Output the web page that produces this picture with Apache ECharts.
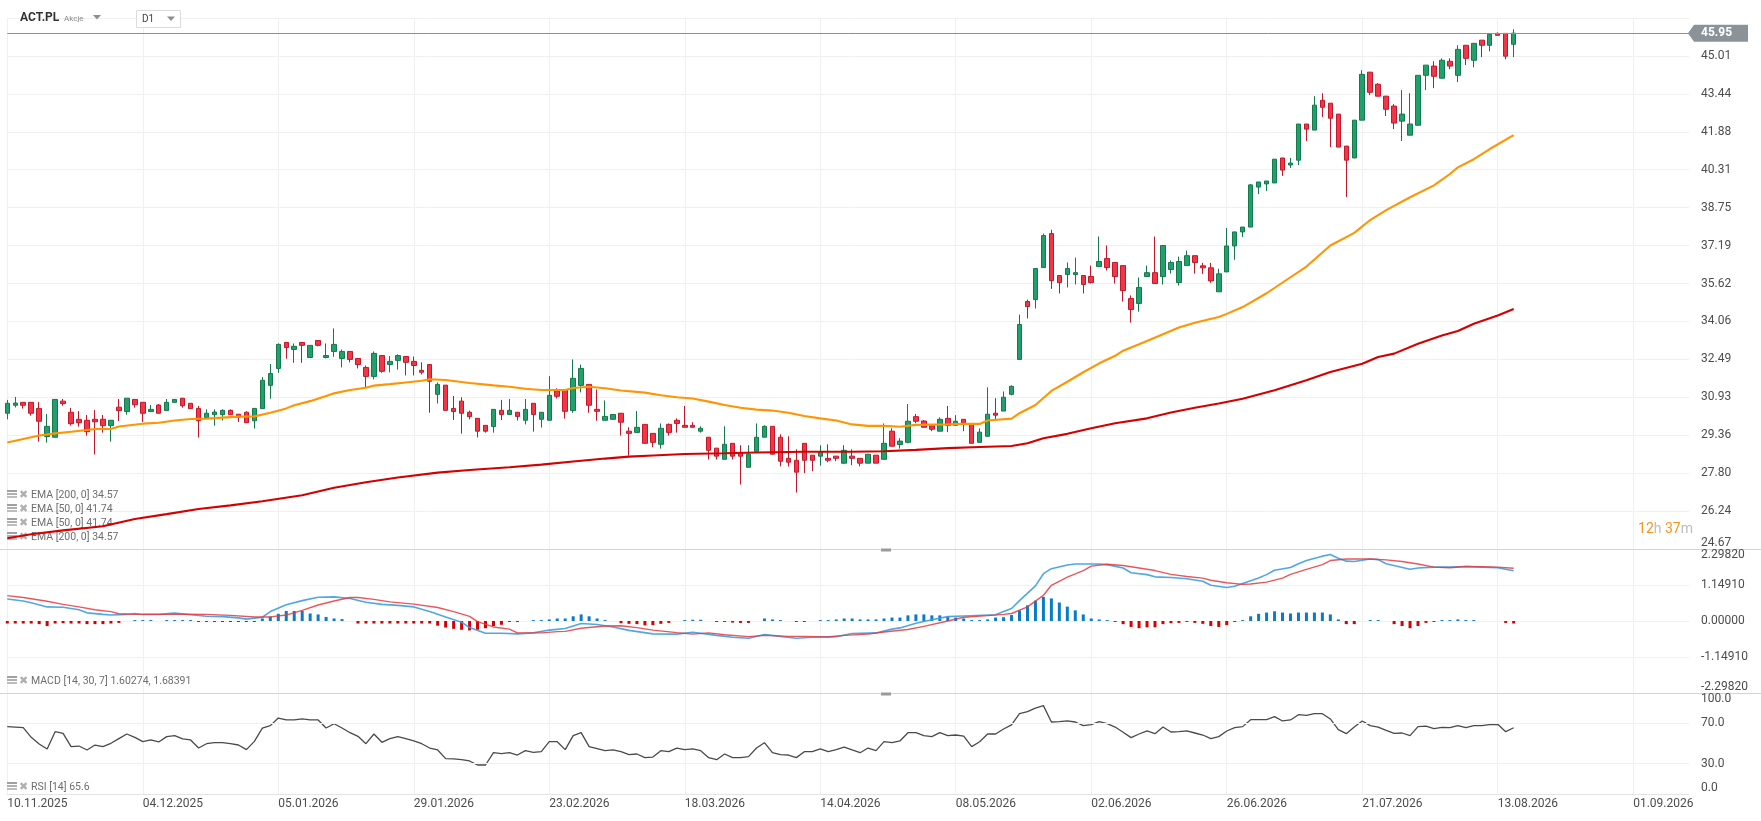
<!DOCTYPE html>
<html>
<head>
<meta charset="utf-8">
<title>ACT.PL D1</title>
<script src="https://cdn.jsdelivr.net/npm/echarts@6/dist/echarts.min.js"></script>
<style>
html, body { margin: 0; padding: 0; background: #fff; }
#main { width: 1761px; height: 821px; }
</style>
</head>
<body>
<div id="main"></div>
<script>
// sessions on the axis; the August/September tail after the 17th is plain calendar days (no bars)
var dayLists = [
  ['11.2025', [10,12,13,14,17,18,19,20,21,24,25,26,27,28]],
  ['12.2025', [1,2,3,4,5,8,9,10,11,12,15,16,17,18,19,22,23,29,30]],
  ['01.2026', [2,5,7,8,9,12,13,14,15,16,19,20,21,22,23,26,27,28,29,30]],
  ['02.2026', [2,3,4,5,6,9,10,11,12,13,16,17,18,19,20,23,24,25,26,27]],
  ['03.2026', [2,3,4,5,6,9,10,11,12,13,16,17,18,19,20,23,24,25,26,27,30,31]],
  ['04.2026', [1,2,7,8,9,10,13,14,15,16,17,20,21,22,23,24,27,28,29,30]],
  ['05.2026', [4,5,6,7,8,11,12,13,14,15,18,19,20,21,22,25,26,27,28,29]],
  ['06.2026', [1,2,3,5,8,9,10,11,12,15,16,17,18,19,22,23,24,25,26,29,30]],
  ['07.2026', [1,2,3,6,7,8,9,10,13,14,15,16,17,20,21,22,23,24,27,28,29,30,31]],
  ['08.2026', [3,4,5,6,7,10,11,12,13,14,17,18,19,20,21,22,23,24,25,26,27,28,29,30,31]],
  ['09.2026', [1,2,3,4,5,6,7,8]]
];

// open, high, low, close
var ohlc = [
  [30.27,30.82,30.02,30.68],[30.60,30.94,30.51,30.69],[30.72,30.72,30.46,30.60],[30.72,30.72,30.17,30.27],
  [30.47,30.73,29.10,29.94],[29.31,30.24,29.06,29.73],[29.28,30.84,29.28,30.84],[30.77,30.86,30.58,30.67],
  [30.31,30.49,29.76,29.84],[30.02,30.36,29.72,29.88],[29.98,30.20,29.35,29.51],[30.02,30.40,28.57,29.92],
  [30.02,30.20,29.47,29.76],[29.76,29.98,29.10,29.98],[30.52,30.86,29.95,30.38],[30.34,30.89,30.21,30.89],
  [30.84,30.84,30.50,30.62],[30.72,30.72,29.91,30.27],[30.34,30.61,30.34,30.43],[30.61,30.65,30.26,30.27],
  [30.38,30.86,30.38,30.72],[30.72,30.84,30.72,30.84],[30.89,30.89,30.50,30.58],[30.68,30.68,30.46,30.46],
  [30.47,30.57,29.27,29.96],[30.09,30.43,30.09,30.27],[30.21,30.43,29.76,30.32],[30.21,30.43,29.97,30.39],
  [30.39,30.43,30.21,30.21],[30.23,30.23,29.91,30.11],[30.31,30.35,29.88,29.88],[29.96,30.47,29.64,30.47],
  [30.46,31.76,30.46,31.63],[31.42,32.30,30.87,31.91],[32.12,33.15,31.94,33.11],[33.19,33.19,32.52,32.98],
  [32.90,33.15,32.35,33.03],[33.19,33.19,32.35,33.07],[32.57,33.07,32.57,33.07],[33.27,33.27,33.03,33.07],
  [32.57,33.15,32.53,32.65],[32.82,33.77,32.60,33.11],[32.53,32.90,32.16,32.82],[32.82,32.82,32.37,32.49],
  [32.53,32.53,32.12,32.28],[32.16,32.24,31.35,31.79],[31.79,32.82,31.67,32.74],[32.65,32.65,31.94,32.00],
  [32.28,32.63,31.96,32.41],[32.45,32.70,32.07,32.65],[32.61,32.61,31.83,32.37],[32.41,32.61,31.83,32.24],
  [32.04,32.37,31.87,31.96],[32.28,32.28,30.29,31.59],[31.05,31.54,30.67,31.46],[31.43,31.43,30.39,30.39],
  [30.47,30.98,29.99,30.34],[30.77,30.93,29.43,30.27],[30.31,30.38,30.02,30.13],[30.06,30.06,29.27,29.53],
  [29.77,29.77,29.47,29.53],[29.72,30.43,29.47,30.43],[30.39,30.82,29.99,30.22],[30.22,30.86,30.22,30.39],
  [30.31,30.31,29.97,30.14],[29.98,30.86,29.81,30.43],[30.68,30.68,29.51,30.22],[30.02,30.31,29.68,30.31],
  [29.98,31.80,29.98,31.01],[31.19,31.30,30.88,30.97],[31.23,31.23,30.05,30.35],[30.38,32.49,30.29,31.71],
  [31.42,32.28,31.13,32.12],[31.46,31.46,30.29,30.60],[30.43,31.25,29.96,30.35],[29.98,30.80,29.98,30.14],
  [30.02,30.22,30.02,30.22],[30.27,30.27,29.35,29.90],[29.53,29.69,28.52,29.44],[29.48,30.36,29.48,29.69],
  [29.81,29.81,29.03,29.03],[29.44,29.44,28.87,29.07],[28.99,29.85,28.81,29.65],[29.81,29.85,29.35,29.48],
  [29.98,30.06,29.47,29.85],[29.77,30.57,29.69,29.69],[29.77,29.90,29.69,29.69],[29.53,29.73,29.47,29.65],
  [29.28,29.28,28.36,28.74],[28.83,28.83,28.36,28.50],[28.37,29.73,28.37,28.99],[29.03,29.03,28.36,28.50],
  [28.62,28.95,27.33,28.50],[28.04,28.95,28.04,28.58],[28.70,29.85,28.70,29.28],[29.28,29.77,29.28,29.73],
  [29.73,29.73,28.58,28.58],[29.28,29.40,28.08,28.29],[28.41,29.32,28.07,28.25],[28.33,28.78,27.00,27.84],
  [29.03,29.03,27.80,28.33],[28.54,28.54,27.88,28.33],[28.50,28.95,28.11,28.66],[28.41,28.99,28.25,28.33],
  [28.50,28.50,28.29,28.41],[28.21,28.95,28.17,28.74],[28.50,28.78,28.13,28.41],[28.41,28.41,28.08,28.21],
  [28.21,28.58,28.21,28.58],[28.54,28.54,28.21,28.21],[28.37,29.85,28.37,29.03],[29.53,29.65,28.91,28.91],
  [28.98,29.24,28.81,29.12],[29.07,30.65,29.03,29.94],[30.13,30.24,29.86,29.94],[29.95,29.99,29.69,29.69],
  [29.75,29.75,29.53,29.61],[29.53,30.10,29.53,30.02],[30.06,30.57,29.49,29.77],[29.77,30.19,29.77,29.94],
  [30.02,30.02,29.53,29.86],[29.81,29.81,29.03,29.03],[29.07,29.65,29.07,29.49],[29.32,31.34,29.32,30.23],
  [30.27,30.89,29.98,30.19],[30.36,31.17,30.36,30.93],[31.05,31.42,31.01,31.38],[32.49,34.34,32.49,33.93],
  [34.88,34.96,34.18,34.67],[34.96,36.24,34.59,36.24],[36.28,37.68,36.28,37.60],[37.68,37.84,35.40,35.74],
  [35.95,35.95,35.21,35.66],[35.99,36.49,35.46,36.24],[35.99,36.69,35.58,36.07],[35.95,35.95,35.21,35.58],
  [35.91,36.36,35.62,35.66],[36.32,37.56,36.32,36.53],[36.65,37.19,36.16,36.28],[36.49,36.49,35.62,35.91],
  [36.36,36.36,34.88,35.33],[35.00,35.13,34.01,34.55],[34.80,35.87,34.46,35.46],[35.91,36.36,35.91,36.07],
  [36.07,37.56,35.62,35.62],[35.91,37.19,35.58,37.19],[36.20,36.57,36.03,36.49],[35.66,36.73,35.54,36.53],
  [36.36,36.98,36.36,36.77],[36.77,36.77,36.03,36.49],[36.35,36.47,36.02,36.27],[36.27,36.47,35.65,35.73],
  [35.28,36.23,35.28,36.02],[36.10,37.91,36.10,37.17],[37.17,37.75,36.60,37.75],[37.75,37.95,37.54,37.95],
  [37.95,39.73,37.95,39.69],[39.60,39.81,39.31,39.81],[39.73,39.85,39.44,39.85],[39.77,40.75,39.77,40.75],
  [40.80,40.80,40.06,40.30],[40.51,40.80,40.39,40.59],[40.71,42.20,40.51,42.20],[42.20,42.20,41.50,41.99],
  [41.95,43.35,41.95,42.98],[43.18,43.47,42.49,42.89],[43.06,43.06,41.25,42.44],[42.61,42.61,41.25,41.25],
  [41.29,41.29,39.19,40.71],[40.80,42.36,40.80,42.36],[42.36,44.42,42.36,44.25],[44.34,44.34,43.39,43.51],
  [43.84,43.89,43.35,43.35],[43.35,43.35,42.53,42.81],[42.94,43.02,41.99,42.24],[42.32,43.60,41.50,42.61],
  [41.74,43.47,41.74,42.20],[42.15,44.21,42.15,44.21],[44.21,44.63,43.60,44.63],[44.59,44.79,43.68,44.17],
  [44.09,44.91,44.09,44.83],[44.79,44.91,44.46,44.59],[44.21,45.45,43.93,45.28],[45.45,45.45,44.63,44.91],
  [44.83,45.53,44.54,45.53],[45.66,45.66,44.96,45.45],[45.45,45.90,45.20,45.90],[45.94,45.98,45.86,45.86],
  [45.94,45.94,44.87,45.00],[45.49,46.11,44.96,45.95]
];

// [bar index, value]
var ema50 = [
  [0,29.06],[2,29.21],[4,29.35],[6,29.44],[8,29.51],[10,29.58],[11,29.62],[13,29.62],[14,29.72],[17,29.84],
  [19,29.88],[21,29.97],[23,30.03],[25,30.05],[27,30.09],[29,30.13],[31,30.14],[33,30.29],[35,30.47],[36,30.60],
  [38,30.77],[40,30.98],[41,31.09],[43,31.23],[45,31.32],[46,31.41],[48,31.47],[50,31.54],[52,31.61],[53,31.67],
  [55,31.64],[58,31.52],[61,31.42],[63,31.36],[65,31.28],[67,31.23],[70,31.23],[71,31.31],[73,31.36],[75,31.30],
  [77,31.21],[80,31.12],[82,31.01],[84,30.93],[86,30.88],[88,30.75],[90,30.61],[92,30.50],[94,30.42],[96,30.38],
  [98,30.29],[100,30.16],[102,30.06],[104,29.97],[106,29.81],[108,29.75],[110,29.75],[112,29.71],[114,29.79],
  [116,29.80],[118,29.81],[120,29.83],[122,29.83],[123,29.97],[126,30.05],[127,30.27],[129,30.61],[131,31.19],
  [133,31.57],[135,31.96],[137,32.33],[139,32.64],[140,32.85],[142,33.12],[145,33.53],[147,33.81],[149,34.00],
  [152,34.24],[153,34.37],[155,34.65],[158,35.22],[161,35.88],[163,36.32],[166,37.19],[169,37.71],[171,38.24],
  [173,38.65],[176,39.18],[179,39.67],[181,40.14],[182,40.41],[184,40.75],[186,41.17],[189,41.74]
];
var ema200 = [
  [0,25.11],[3,25.28],[7,25.44],[12,25.61],[16,25.91],[20,26.11],[24,26.32],[28,26.47],[32,26.64],[37,26.89],
  [41,27.20],[45,27.42],[49,27.62],[54,27.82],[58,27.93],[63,28.04],[67,28.15],[71,28.28],[75,28.40],[78,28.48],
  [81,28.53],[85,28.59],[90,28.62],[94,28.65],[100,28.68],[106,28.68],[110,28.70],[114,28.76],[118,28.83],
  [122,28.88],[126,28.92],[128,29.03],[130,29.24],[133,29.42],[136,29.65],[139,29.86],[143,30.06],[146,30.30],
  [149,30.50],[152,30.67],[155,30.87],[159,31.22],[163,31.63],[166,31.97],[170,32.31],[172,32.59],[174,32.73],
  [177,33.14],[180,33.48],[182,33.66],[184,33.96],[187,34.30],[189,34.57]
];

var macdLine = [
  [0,0.70],[2,0.64],[3,0.58],[5,0.45],[7,0.44],[9,0.36],[10,0.26],[12,0.21],[13,0.19],[15,0.21],[16,0.24],
  [17,0.21],[19,0.21],[21,0.25],[23,0.20],[25,0.15],[27,0.14],[29,0.10],[30,0.06],[32,0.12],[33,0.30],[35,0.52],
  [37,0.65],[39,0.76],[41,0.77],[43,0.72],[45,0.60],[47,0.53],[49,0.50],[51,0.45],[53,0.30],[55,0.13],[57,-0.04],
  [58,-0.21],[60,-0.39],[62,-0.39],[64,-0.41],[66,-0.38],[68,-0.29],[70,-0.24],[72,-0.08],[74,-0.11],[76,-0.19],
  [78,-0.30],[81,-0.41],[84,-0.42],[86,-0.36],[89,-0.46],[91,-0.52],[93,-0.55],[95,-0.43],[97,-0.49],[99,-0.55],
  [101,-0.52],[104,-0.50],[106,-0.40],[109,-0.38],[111,-0.26],[112,-0.22],[114,-0.07],[116,0.04],[118,0.14],
  [120,0.16],[124,0.20],[125,0.30],[126,0.40],[127,0.65],[129,1.12],[130,1.51],[131,1.67],[133,1.79],[134,1.82],
  [137,1.82],[138,1.80],[140,1.69],[141,1.54],[143,1.48],[144,1.41],[146,1.39],[148,1.35],[150,1.27],[151,1.14],
  [153,1.07],[154,1.11],[155,1.20],[157,1.37],[158,1.48],[159,1.62],[161,1.71],[162,1.83],[163,1.93],[165,2.07],
  [166,2.12],[167,2.00],[168,1.91],[169,1.90],[171,1.98],[172,1.96],[173,1.83],[176,1.65],[177,1.69],[179,1.72],
  [181,1.72],[183,1.74],[185,1.72],[187,1.70],[189,1.60274]
];
var signalLine = [
  [0,0.81],[2,0.75],[5,0.63],[7,0.53],[9,0.45],[11,0.36],[13,0.30],[14,0.23],[16,0.21],[19,0.21],[22,0.22],
  [25,0.21],[28,0.18],[31,0.13],[33,0.13],[35,0.19],[37,0.34],[39,0.51],[41,0.64],[43,0.75],[44,0.75],[46,0.69],
  [48,0.61],[51,0.54],[54,0.43],[56,0.30],[58,0.15],[59,-0.02],[61,-0.19],[63,-0.26],[64,-0.38],[67,-0.38],
  [69,-0.34],[70,-0.33],[72,-0.23],[75,-0.16],[77,-0.15],[79,-0.21],[81,-0.29],[84,-0.37],[86,-0.42],[88,-0.38],
  [90,-0.44],[93,-0.50],[95,-0.46],[98,-0.49],[100,-0.49],[103,-0.51],[105,-0.46],[108,-0.42],[110,-0.35],
  [113,-0.27],[115,-0.17],[118,0.00],[120,0.12],[123,0.17],[125,0.21],[126,0.24],[128,0.45],[130,0.82],[131,1.14],
  [133,1.40],[135,1.61],[136,1.75],[138,1.81],[140,1.77],[142,1.69],[144,1.61],[146,1.49],[148,1.42],[150,1.37],
  [151,1.30],[153,1.22],[155,1.17],[156,1.18],[158,1.24],[160,1.37],[161,1.49],[163,1.65],[165,1.80],[166,1.93],
  [168,1.98],[171,1.98],[173,1.95],[175,1.90],[177,1.82],[179,1.72],[181,1.70],[183,1.74],[185,1.73],[187,1.72],
  [189,1.68391]
];
var macdHist = [
  -0.08,-0.08,-0.08,-0.08,-0.10,-0.16,-0.08,-0.07,-0.08,-0.08,-0.10,-0.10,-0.10,-0.08,-0.06,
  0,0.03,0.03,0.03,0,0.03,0.03,0.03,0.03,-0.03,-0.03,-0.03,-0.03,-0.03,-0.03,-0.03,-0.03,
  0.08,0.14,0.23,0.32,0.32,0.32,0.24,0.21,0.13,0.08,0.06,0,
  -0.08,-0.08,-0.08,-0.08,-0.08,-0.08,-0.08,-0.08,-0.08,-0.08,-0.15,-0.21,-0.25,-0.28,-0.30,-0.28,-0.23,-0.16,-0.12,-0.03,-0.03,
  0,0.03,0.03,0.05,0.08,0.08,0.15,0.21,0.15,0.08,0.03,0,-0.07,-0.09,-0.10,-0.14,-0.13,-0.09,-0.06,0,0.03,0.04,0.04,
  0,-0.03,-0.03,-0.05,-0.06,-0.06,0,0.08,0.05,0.03,0,-0.03,-0.03,0,
  0.03,0.03,0.05,0.08,0.08,0.05,0.05,0.05,0.08,0.11,0.11,0.18,0.21,0.21,0.18,0.18,0.15,0.11,0.08,0.03,0.03,0.05,0.11,0.12,0.19,0.34,
  0.50,0.65,0.77,0.72,0.59,0.46,0.34,0.21,0.08,0.05,0.03,-0.03,-0.10,-0.19,-0.23,-0.20,-0.20,-0.10,-0.07,-0.06,-0.03,-0.06,-0.09,-0.16,-0.19,-0.13,-0.03,0.03,
  0.15,0.23,0.27,0.31,0.27,0.24,0.27,0.27,0.27,0.27,0.21,0.05,-0.10,-0.10,0,0.03,0.03,0,-0.10,-0.16,-0.23,-0.16,-0.06,-0.03,0.03,0.03,0.05,0.03,0.03,0,0,0,-0.06,-0.08
];
var rsi = [
  66.7,66.3,65.7,56.1,49.5,44.6,61.7,60.1,46.9,47.5,
  43.6,48.5,46.9,50.2,54.8,59.4,56.1,51.8,53.5,51.5,
  56.8,57.8,54.5,53.5,45.5,49.8,50.8,50.8,49.8,48.5,
  43.9,52.1,65.3,67.7,75.2,73.3,73.3,74.3,73.3,73.3,
  65.3,69.6,65.3,60.7,57.1,49.8,59.4,51.2,54.8,56.8,
  54.8,52.5,49.8,45.5,43.6,35.0,34.7,34.0,32.7,28.7,
  28.7,40.9,39.9,40.9,38.6,42.9,41.3,41.9,51.8,51.8,
  43.9,57.8,60.7,46.9,44.9,42.9,43.6,41.9,38.9,39.6,
  36.0,36.6,42.9,41.9,45.5,43.9,44.6,42.9,36.0,34.0,
  39.6,36.0,36.0,37.0,45.5,50.8,40.9,38.9,38.6,36.0,
  41.9,41.9,44.6,41.9,43.9,46.5,43.6,40.9,45.5,42.9,
  51.8,50.8,52.5,60.7,60.7,57.8,56.8,60.7,57.8,58.4,
  57.4,46.9,51.8,59.4,59.4,64.4,68.5,79.5,81.5,85.1,
  87.5,71.3,71.6,72.3,71.3,67.7,68.6,71.6,69.6,66.3,
  61.1,55.8,59.4,62.4,59.7,66.3,61.4,61.7,62.4,60.4,
  58.4,54.8,56.8,62.4,65.7,66.7,73.6,73.6,73.6,76.6,
  72.3,73.3,78.5,77.9,79.5,79.5,74.3,63.7,59.7,66.3,
  72.3,67.7,66.3,63.0,60.1,60.4,57.8,66.7,67.3,64.7,
  66.0,65.7,67.7,65.7,67.7,67.7,68.6,69.0,61.7,65.6
];

var priceTicks = ['24.67','26.24','27.80','29.36','30.93','32.49','34.06','35.62','37.19','38.75','40.31','41.88','43.44','45.01'];
var priceMin = 24.67, priceStep = 1.5646;
var macdMax = 2.2982, macdStep = 1.1491;
var rsiTicks = [0, 30, 70, 100];
var rsiLevels = [30, 70];
var labelEvery = 17;

var categories = [];
dayLists.forEach(function (m) {
  m[1].forEach(function (d) {
    categories.push((d < 10 ? '0' + d : '' + d) + '.' + m[0]);
  });
});

var candleData = ohlc.map(function (r) { return [r[0], r[3], r[2], r[1]]; });
var lastClose = ohlc[ohlc.length - 1][3];
var last = function (a) { return a[a.length - 1][1]; };

var UP = '#22a06b', UP_LINE = '#14794c', DOWN = '#f23645', DOWN_LINE = '#c3182b';
var GRID_LINE = '#f0f0f0', AXIS_TEXT = '#4d4d4d';
var FONT = 'Roboto';

var everyLabel = function (i) { return i % labelEvery === 0; };

function xAxisFor(gridIndex, withLabels) {
  return {
    type: 'category', gridIndex: gridIndex, data: categories, boundaryGap: false,
    axisLine: { show: withLabels, lineStyle: { color: '#e4e4e4' } },
    axisTick: { show: false, interval: everyLabel },
    splitLine: { show: true, interval: everyLabel, lineStyle: { color: GRID_LINE, width: 1 } },
    axisLabel: {
      show: withLabels, interval: everyLabel, align: 'left', margin: 4,
      color: AXIS_TEXT, fontSize: 12, fontFamily: FONT
    }
  };
}

var sideLabel = {
  color: AXIS_TEXT, fontSize: 12, fontFamily: FONT, margin: 12, align: 'left',
  verticalAlignMinLabel: 'bottom', verticalAlignMaxLabel: 'top'
};

var option = {
  backgroundColor: '#ffffff',
  animation: false,
  textStyle: { fontFamily: FONT },
  grid: [
    { left: 7.3, right: 72, top: 18, height: 531, outerBoundsMode: 'none' },
    { left: 7.3, right: 72, top: 549, height: 144, outerBoundsMode: 'none' },
    { left: 7.3, right: 72, top: 693, height: 101, outerBoundsMode: 'none' }
  ],
  xAxis: [xAxisFor(0, false), xAxisFor(1, false), xAxisFor(2, true)],
  yAxis: [
    {
      type: 'value', gridIndex: 0, position: 'right', scale: true,
      min: priceMin, max: +(priceMin + priceStep * priceTicks.length).toFixed(4), interval: priceStep,
      axisLine: { show: false }, axisTick: { show: false },
      splitLine: { lineStyle: { color: GRID_LINE } },
      axisLabel: Object.assign({}, sideLabel, {
        showMaxLabel: false,
        formatter: function (v) {
          var k = Math.round((v - priceMin) / priceStep);
          return priceTicks[k] || '';
        }
      })
    },
    {
      type: 'value', gridIndex: 1, position: 'right',
      min: -macdMax, max: macdMax, interval: macdStep,
      axisLine: { show: false }, axisTick: { show: false },
      splitLine: { lineStyle: { color: GRID_LINE } },
      axisLabel: Object.assign({}, sideLabel, {
        formatter: function (v) { return Math.abs(v) < 1e-9 ? '0.00000' : v.toFixed(5); }
      })
    },
    {
      type: 'value', gridIndex: 2, position: 'right',
      min: 0, max: 100, interval: 10,
      axisLine: { show: false }, axisTick: { show: false },
      splitLine: { show: false },
      axisLabel: Object.assign({}, sideLabel, {
        formatter: function (v) { var r = Math.round(v); return rsiTicks.indexOf(r) >= 0 ? r.toFixed(1) : ''; }
      })
    }
  ],
  series: [
    {
      name: 'ACT.PL', type: 'candlestick', xAxisIndex: 0, yAxisIndex: 0,
      data: candleData, barWidth: 5, clip: false,
      itemStyle: { color: UP, color0: DOWN, borderColor: UP_LINE, borderColor0: DOWN_LINE, borderWidth: 1 },
      markLine: {
        silent: true, symbol: ['none', 'none'], animation: false,
        lineStyle: { color: '#8c9195', width: 1, type: 'solid' },
        label: {
          position: 'end', distance: 5, formatter: function () { return lastClose.toFixed(2); },
          backgroundColor: '#8c9398', color: '#ffffff', fontSize: 12, fontWeight: 'bold',
          fontFamily: FONT, lineHeight: 14, padding: [2, 16, 1, 7]
        },
        data: [{ yAxis: lastClose }]
      }
    },
    {
      name: 'EMA200', type: 'line', xAxisIndex: 0, yAxisIndex: 0, data: ema200,
      showSymbol: false, lineStyle: { color: '#d40000', width: 2.1 }, z: 3
    },
    {
      name: 'EMA50', type: 'line', xAxisIndex: 0, yAxisIndex: 0, data: ema50,
      showSymbol: false, lineStyle: { color: '#ff9500', width: 2.1 }, z: 3
    },
    {
      name: 'MACD hist', type: 'bar', xAxisIndex: 1, yAxisIndex: 1, data: macdHist, barWidth: 3,
      itemStyle: { color: function (p) { return p.value >= 0 ? '#0a7cc6' : '#d60000'; } }
    },
    {
      name: 'MACD', type: 'line', xAxisIndex: 1, yAxisIndex: 1, data: macdLine,
      showSymbol: false, lineStyle: { color: '#3c9ee0', width: 1.6, opacity: 0.9 }
    },
    {
      name: 'Signal', type: 'line', xAxisIndex: 1, yAxisIndex: 1, data: signalLine,
      showSymbol: false, lineStyle: { color: '#e33b3f', width: 1.4, opacity: 0.85 }
    },
    {
      name: 'RSI', type: 'line', xAxisIndex: 2, yAxisIndex: 2, data: rsi,
      showSymbol: false, lineStyle: { color: '#4a4a4a', width: 1.3 },
      markLine: {
        silent: true, symbol: ['none', 'none'], animation: false,
        label: { show: false },
        lineStyle: { color: GRID_LINE, width: 1, type: 'solid' },
        data: rsiLevels.map(function (v) { return { yAxis: v }; })
      }
    }
  ]
};

var myChart = echarts.init(document.getElementById('main'));
myChart.setOption(option);

// decorations: header, legends, pane separators, price tag arrow, countdown
function legendRow(y, text) {
  return [
    { type: 'rect', shape: { x: 7, y: y - 5, width: 10, height: 2 }, style: { fill: '#a0a0a0' }, silent: true },
    { type: 'rect', shape: { x: 7, y: y - 2, width: 10, height: 2 }, style: { fill: '#b0b0b0' }, silent: true },
    { type: 'rect', shape: { x: 7, y: y + 1, width: 10, height: 2 }, style: { fill: '#bdbdbd' }, silent: true },
    { type: 'text', x: 19, y: y, silent: true,
      style: { text: '\u2716', fill: '#b0b0b0', font: 'bold 11px "DejaVu Sans"', textVerticalAlign: 'middle', verticalAlign: 'middle' } },
    { type: 'text', x: 31, y: y, silent: true,
      style: { text: text, fill: '#6e6e6e', font: '10.5px Roboto', textVerticalAlign: 'middle', verticalAlign: 'middle' } }
  ];
}

var tagY = myChart.convertToPixel({ yAxisIndex: 0 }, lastClose);
var gridRight = 1761 - 72;
var g = [];
g.push({ type: 'text', x: 20, y: 18, silent: true,
  style: { text: 'ACT.PL', fill: '#333333', font: 'bold 12px Roboto', textVerticalAlign: 'middle', verticalAlign: 'middle' } });
g.push({ type: 'text', x: 64, y: 19, silent: true,
  style: { text: 'Akcje', fill: '#8a8a8a', font: '8px Roboto', textVerticalAlign: 'middle', verticalAlign: 'middle' } });
g.push({ type: 'polygon', shape: { points: [[93, 15], [101, 15], [97, 19.5]] }, style: { fill: '#8d8d8d' }, silent: true });
g.push({ type: 'rect', shape: { x: 136.5, y: 10.5, width: 44, height: 17 }, style: { fill: '#ffffff', stroke: '#dcdcdc', lineWidth: 1 }, silent: true });
g.push({ type: 'text', x: 142, y: 19.5, silent: true,
  style: { text: 'D1', fill: '#444444', font: '10px Roboto', textVerticalAlign: 'middle', verticalAlign: 'middle' } });
g.push({ type: 'polygon', shape: { points: [[167, 16.5], [175, 16.5], [171, 21]] }, style: { fill: '#8d8d8d' }, silent: true });

g = g.concat(legendRow(495, 'EMA [200, 0] ' + last(ema200).toFixed(2)));
g = g.concat(legendRow(509, 'EMA [50, 0] ' + last(ema50).toFixed(2)));
g = g.concat(legendRow(523, 'EMA [50, 0] ' + last(ema50).toFixed(2)));
g = g.concat(legendRow(537, 'EMA [200, 0] ' + last(ema200).toFixed(2)));
g = g.concat(legendRow(681, 'MACD [14, 30, 7] ' + last(macdLine).toFixed(5) + ', ' + last(signalLine).toFixed(5)));
g = g.concat(legendRow(787, 'RSI [14] ' + rsi[rsi.length - 1].toFixed(1)));

[549.5, 693.5].forEach(function (y) {
  g.push({ type: 'line', shape: { x1: 0, y1: y, x2: 1761, y2: y }, style: { stroke: '#d4d4d4', lineWidth: 1 }, silent: true });
  g.push({ type: 'rect', shape: { x: 881, y: y - 1, width: 10, height: 3 }, style: { fill: '#9a9a9a' }, silent: true });
});

g.push({ type: 'polygon', shape: { points: [[gridRight - 1, tagY], [gridRight + 5, tagY - 8.5], [gridRight + 5, tagY + 8.5]] },
  style: { fill: '#8c9398' }, silent: true });

g.push({ type: 'text', x: gridRight + 4, y: 529, silent: true,
  style: {
    text: '{a|12}{b|h} {a|37}{b|m}', font: '14px Roboto', textAlign: 'right', align: 'right',
    textVerticalAlign: 'middle', verticalAlign: 'middle',
    rich: { a: { fill: '#f7931e', font: '14px Roboto' }, b: { fill: '#bdbdbd', font: '14px Roboto' } }
  } });

myChart.setOption({ graphic: { elements: g } });
</script>
</body>
</html>
